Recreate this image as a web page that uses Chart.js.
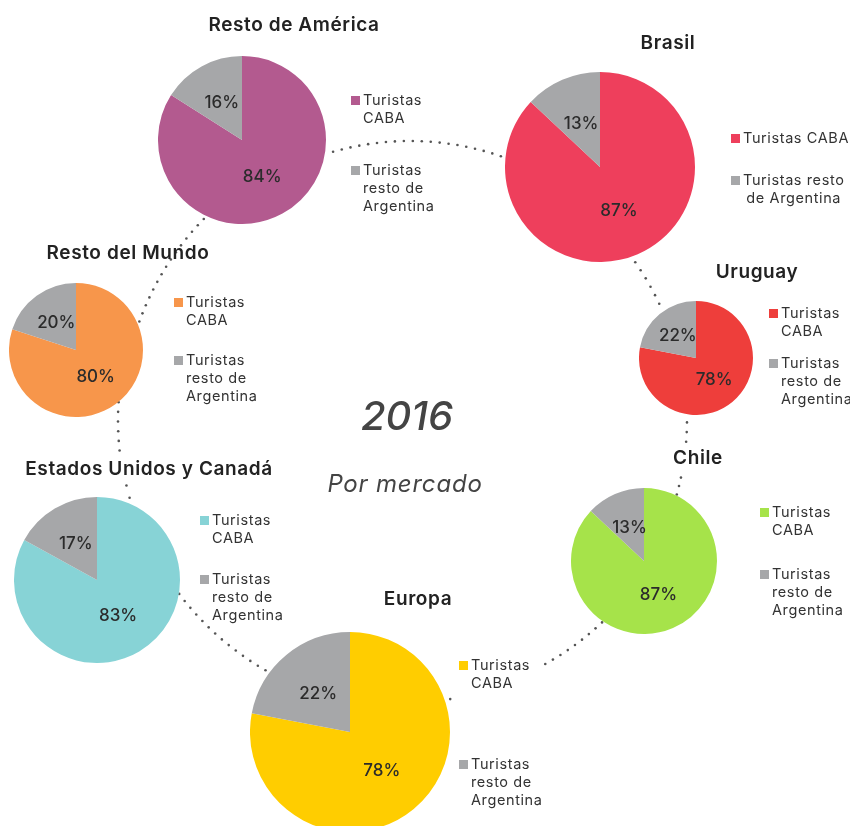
<!DOCTYPE html>
<html>
<head>
<meta charset="utf-8">
<title>Turistas por mercado 2016</title>
<script src="https://cdn.jsdelivr.net/npm/chart.js@4.4.1/dist/chart.umd.min.js"></script>
<style>
  body {
    margin: 0;
    width: 850px;
    height: 826px;
    overflow: hidden;
    position: relative;
    background: #fff;
    font-family: Inter, "Noto Sans", sans-serif;
    color: #2b2b2b;
  }
  #ring { position: absolute; left: 0; top: 0; }
  .pie { position: absolute; }
  .title {
    position: absolute;
    transform: translate(-50%, -50%);
    font-size: 19px;
    font-weight: 600;
    letter-spacing: 0.6px;
    white-space: nowrap;
    color: #222;
  }
  .legend-item {
    position: absolute;
    display: flex;
    font-size: 14.5px;
    letter-spacing: 0.6px;
    line-height: 18px;
    color: #333;
  }
  .legend-item i {
    flex: none;
    width: 9px;
    height: 9px;
    margin: 5px 3px 0 0;
  }
  .legend-item span { white-space: pre; }
  .center {
    position: absolute;
    transform: translate(-50%, -50%);
    font-style: italic;
    white-space: nowrap;
    color: #444;
  }
</style>
</head>
<body>
<canvas id="ring" width="850" height="826"></canvas>

<script>
// --- datos ---
const markets = ["Resto de América", "Brasil", "Resto del Mundo", "Uruguay",
                 "Estados Unidos y Canadá", "Chile", "Europa"];
const turistasCaba = [84, 87, 80, 78, 83, 87, 78];
const turistasResto = [16, 13, 20, 22, 17, 13, 22];
const seriesLabels = ["Turistas CABA", "Turistas resto de Argentina"];
const yearLabel = "2016";
const subtitle = "Por mercado";

// --- estilo ---
const marketColors = ["#b35a8f", "#ee3f5c", "#f7964b", "#ee3e3b", "#87d3d6", "#a6e34a", "#ffcd00"];
const restoColor = "#a6a7a9";

// posición de cada torta, título y leyenda
const layout = [
  { cx: 242, cy: 140, r: 84,  tx: 294, ty: 24,  lx: 351, ly: [100, 170] },
  { cx: 600, cy: 167, r: 95,  tx: 668, ty: 42,  lx: 731, ly: [138, 180], wrap: [[2], [2, 2]], align: "center" },
  { cx: 76,  cy: 350, r: 67,  tx: 128, ty: 252, lx: 174, ly: [302, 360] },
  { cx: 696, cy: 358, r: 57,  tx: 757, ty: 271, lx: 769, ly: [313, 363] },
  { cx: 97,  cy: 580, r: 83,  tx: 149, ty: 468, lx: 200, ly: [520, 579] },
  { cx: 644, cy: 561, r: 73,  tx: 698, ty: 457, lx: 760, ly: [512, 574] },
  { cx: 350, cy: 732, r: 100, tx: 418, ty: 598, lx: 459, ly: [665, 764] },
];
const defaultWrap = [[1, 1], [1, 2, 1]];

// arcos punteados que unen las tortas (centro común, ángulos en grados)
const ringCenter = { x: 410, y: 420 };
const ringArcs = [
  { r: 279, from: -106, to: -71 },
  { r: 275, from: -35, to: -25 },
  { r: 277, from: 0.5, to: 4.5 },
  { r: 277, from: 12, to: 15.6 },
  { r: 279, from: 46.5, to: 61 },
  { r: 282, from: 81.8, to: 81.8 },
  { r: 289, from: 120, to: 143 },
  { r: 291, from: 164.5, to: 167 },
  { r: 292, from: 174, to: 183.5 },
  { r: 288, from: 200, to: 226 },
];

function drawRing() {
  const ctx = document.getElementById("ring").getContext("2d");
  ctx.fillStyle = "#555";
  ringArcs.forEach(a => {
    const span = (a.to - a.from) * Math.PI / 180;
    const n = Math.max(Math.round(a.r * span / 9), 0);
    for (let i = 0; i <= n; i++) {
      const ang = (a.from * Math.PI / 180) + (n ? span * i / n : 0);
      ctx.beginPath();
      ctx.arc(ringCenter.x + a.r * Math.cos(ang), ringCenter.y + a.r * Math.sin(ang), 1.3, 0, Math.PI * 2);
      ctx.fill();
    }
  });
}

// porcentajes dentro de cada porción
const percentLabels = {
  id: "percentLabels",
  afterDatasetsDraw(chart) {
    const { ctx } = chart;
    const values = chart.data.datasets[0].data;
    ctx.save();
    ctx.font = "500 17px Inter, sans-serif";
    ctx.fillStyle = "#2b2b2b";
    ctx.textAlign = "center";
    ctx.textBaseline = "middle";
    chart.getDatasetMeta(0).data.forEach((arc, i) => {
      const p = arc.tooltipPosition();
      ctx.fillText(values[i] + "%", p.x, p.y);
    });
    ctx.restore();
  }
};

function addText(cls, text, x, y, extra) {
  const el = document.createElement("div");
  el.className = cls;
  el.textContent = text;
  el.style.left = x + "px";
  el.style.top = y + "px";
  Object.assign(el.style, extra || {});
  document.body.appendChild(el);
  return el;
}

function wrapLabel(label, pattern) {
  const words = label.split(" ");
  const lines = [];
  let k = 0;
  pattern.forEach(n => { lines.push(words.slice(k, k + n).join(" ")); k += n; });
  return lines.join("\n");
}

markets.forEach((name, m) => {
  const L = layout[m];

  const box = document.createElement("div");
  box.className = "pie";
  box.style.left = (L.cx - L.r) + "px";
  box.style.top = (L.cy - L.r) + "px";
  box.style.width = (2 * L.r) + "px";
  box.style.height = (2 * L.r) + "px";
  const canvas = document.createElement("canvas");
  box.appendChild(canvas);
  document.body.appendChild(box);

  new Chart(canvas, {
    type: "pie",
    data: {
      labels: seriesLabels,
      datasets: [{
        data: [turistasCaba[m], turistasResto[m]],
        backgroundColor: [marketColors[m], restoColor],
        borderWidth: 0,
        hoverOffset: 0
      }]
    },
    options: {
      responsive: true,
      maintainAspectRatio: false,
      animation: false,
      layout: { padding: 0 },
      events: [],
      plugins: { legend: { display: false }, tooltip: { enabled: false } }
    },
    plugins: [percentLabels]
  });

  addText("title", name, L.tx, L.ty);

  // leyenda: cuadrado de color + texto
  const wrap = L.wrap || defaultWrap;
  seriesLabels.forEach((label, s) => {
    const item = document.createElement("div");
    item.className = "legend-item";
    item.style.left = L.lx + "px";
    item.style.top = (L.ly[s] - 9) + "px";
    const sq = document.createElement("i");
    sq.style.background = s === 0 ? marketColors[m] : restoColor;
    const txt = document.createElement("span");
    txt.textContent = wrapLabel(label, wrap[s]);
    txt.style.textAlign = L.align || "left";
    item.appendChild(sq);
    item.appendChild(txt);
    document.body.appendChild(item);
  });
});

addText("center", yearLabel, 407, 415, { fontSize: "40px", fontWeight: "500" });
addText("center", subtitle, 405, 483, { fontSize: "24px", letterSpacing: "0.8px" });

drawRing();
</script>
</body>
</html>
